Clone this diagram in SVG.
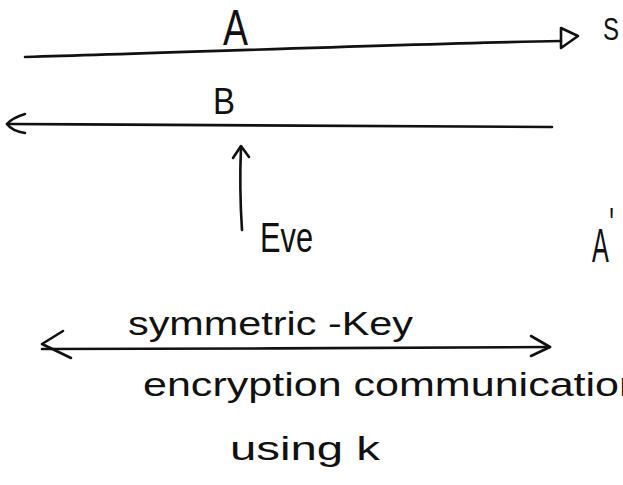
<svg xmlns="http://www.w3.org/2000/svg" width="623" height="485" viewBox="0 0 623 485">
<style>
.ln{fill:none;stroke:#111;stroke-width:2.6;stroke-linecap:round;stroke-linejoin:round}
.t{font-family:"Liberation Sans","DejaVu Sans",sans-serif;fill:#111}
</style>
<rect width="623" height="485" fill="#fff"/>
<g id="connectors">
<g id="msgA"><path class="ln" d="M25,57 C200,52 400,44 561,41"/><path class="ln" d="M561,28 L578,36 L561,48 Z"/></g>
<g id="msgB"><path class="ln" d="M552,127 C400,126 200,125 7,124"/><path class="ln" d="M25,114 Q12,118 7,124 Q12,131 25,133"/></g>
<g id="eveArrow"><path class="ln" d="M242,230 C240,200 240,170 241,147"/><path class="ln" d="M233,158 L241,146 L249,157"/></g>
<g id="keyArrow"><path class="ln" d="M42,349 C200,348 400,349 550,347"/><path class="ln" d="M63,331 L42,344 L71,358"/><path class="ln" d="M531,336 L550,347 L531,356"/></g>
</g>
<g id="labelA"><text class="t" x="223" y="45" font-size="50" textLength="25" lengthAdjust="spacingAndGlyphs">A</text></g>
<g id="labelB"><text class="t" x="213" y="114" font-size="37" textLength="22" lengthAdjust="spacingAndGlyphs">B</text></g>
<g id="nodeS"><text class="t" x="603" y="40" font-size="32" textLength="16" lengthAdjust="spacingAndGlyphs">S</text></g>
<g id="nodeEve"><text class="t" x="260" y="252" font-size="42" textLength="53" lengthAdjust="spacingAndGlyphs">Eve</text></g>
<g id="nodeA2"><text class="t" x="592" y="262" font-size="48" textLength="22" lengthAdjust="spacingAndGlyphs">A<tspan dx="1" dy="-22" font-size="46">'</tspan></text></g>
<g id="labelKey">
<text class="t" x="128" y="335" font-size="34" textLength="285" lengthAdjust="spacingAndGlyphs">symmetric -Key</text>
<text class="t" x="143" y="396" font-size="33" textLength="500" lengthAdjust="spacingAndGlyphs">encryption communication</text>
<text class="t" x="230" y="460" font-size="34" textLength="150" lengthAdjust="spacingAndGlyphs">using k</text>
</g>
</svg>
